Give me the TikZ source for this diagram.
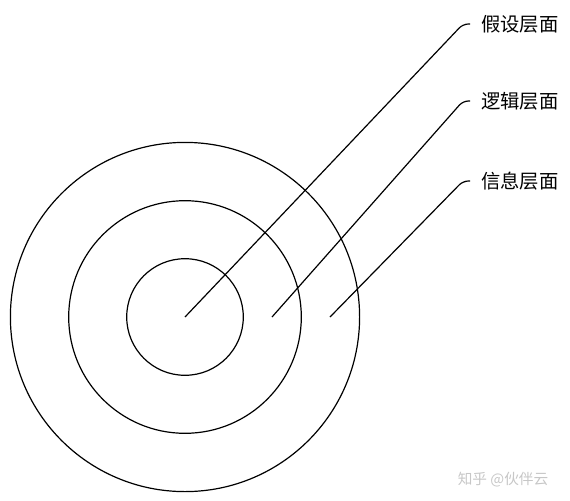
\documentclass[tikz,border=0pt]{standalone}
\usepackage{fontspec}
\newfontfamily\cjk{Noto Sans CJK SC}
\usepackage{tikz}

\begin{document}
\begin{tikzpicture}[x=0.75pt,y=0.75pt,yscale=-1,xscale=1]
\tikzset{
  ring/.style={line width=0.9pt},
  leader/.style={line width=0.9pt, rounded corners=4pt},
  layerlabel/.style={anchor=west, inner sep=0pt, font=\cjk\fontsize{14.5}{16}\selectfont},
}
\useasboundingbox (0,0) rectangle (570,500);
% centre of the rings
\coordinate (c) at (185,317);
%Circles
\draw [ring] (c) circle (58.3);
\draw [ring] (c) circle (116.3);
\draw [ring] (c) circle (174.6);
% Text Node
\node [layerlabel] (jiashe) at (481,24) {假设层面};
% Text Node
\node [layerlabel] (luoji) at (481,101) {逻辑层面};
% Text Node
\node [layerlabel] (xinxi) at (481,181) {信息层面};
%Leader lines
\coordinate (p1) at (185,317);
\coordinate (p2) at (272,317);
\coordinate (p3) at (330,317);
\draw [leader] (p1) -- (463,24) -- (470,24);
\draw [leader] (p2) -- (463,101) -- (470,101);
\draw [leader] (p3) -- (463,181) -- (470,181);
% Watermark
\node [inner sep=0pt, text=black!22, font=\cjk\fontsize{11}{13}\selectfont] (mark) at (503,480) {知乎 @伙伴云};
\end{tikzpicture}
\end{document}
